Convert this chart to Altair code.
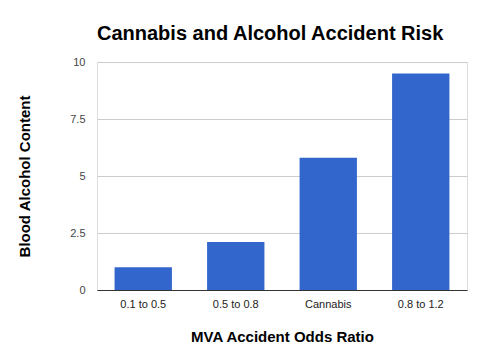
import altair as alt
import pandas as pd

categories = ["0.1 to 0.5", "0.5 to 0.8", "Cannabis", "0.8 to 1.2"]
values = [1.0, 2.1, 5.8, 9.5]

df = pd.DataFrame({"cat": categories, "val": values})

FONT = "Liberation Sans"

chart = alt.Chart(df).mark_bar(color="#3366CC").encode(
    x=alt.X("cat:N", sort=categories, title="MVA Accident Odds Ratio",
            scale=alt.Scale(paddingInner=0.38, paddingOuter=0.19),
            axis=alt.Axis(labelAngle=0, ticks=False, domain=True, domainColor="#333333",
                          domainWidth=1, labelPadding=8, labelFontSize=11, labelColor="#222222",
                          labelFont=FONT, titleFont=FONT, titleFontSize=15, titleFontWeight="bold",
                          titleColor="#000000", titlePadding=20)),
    y=alt.Y("val:Q", title="Blood Alcohol Content",
            scale=alt.Scale(domain=[0, 10]),
            axis=alt.Axis(values=[0, 2.5, 5, 7.5, 10], ticks=False, domain=False,
                          gridColor="#cccccc", labelPadding=12, labelFontSize=11,
                          labelColor="#444444", labelFont=FONT, titleFont=FONT,
                          titleFontSize=15, titleFontWeight="bold", titleColor="#000000",
                          titlePadding=37, format=".2~f")),
).properties(
    width=370,
    height=228,
    title=alt.TitleParams("Cannabis and Alcohol Accident Risk", anchor="start", frame="group",
                          font=FONT, fontSize=20, fontWeight="bold", color="#000000",
                          offset=12),
    autosize="none",
    padding={"left": 97, "top": 62, "right": 10, "bottom": 64},
).configure_view(stroke=None).configure(background="white")

chart.save("out.html", embed_options={"renderer": "svg", "actions": False})
